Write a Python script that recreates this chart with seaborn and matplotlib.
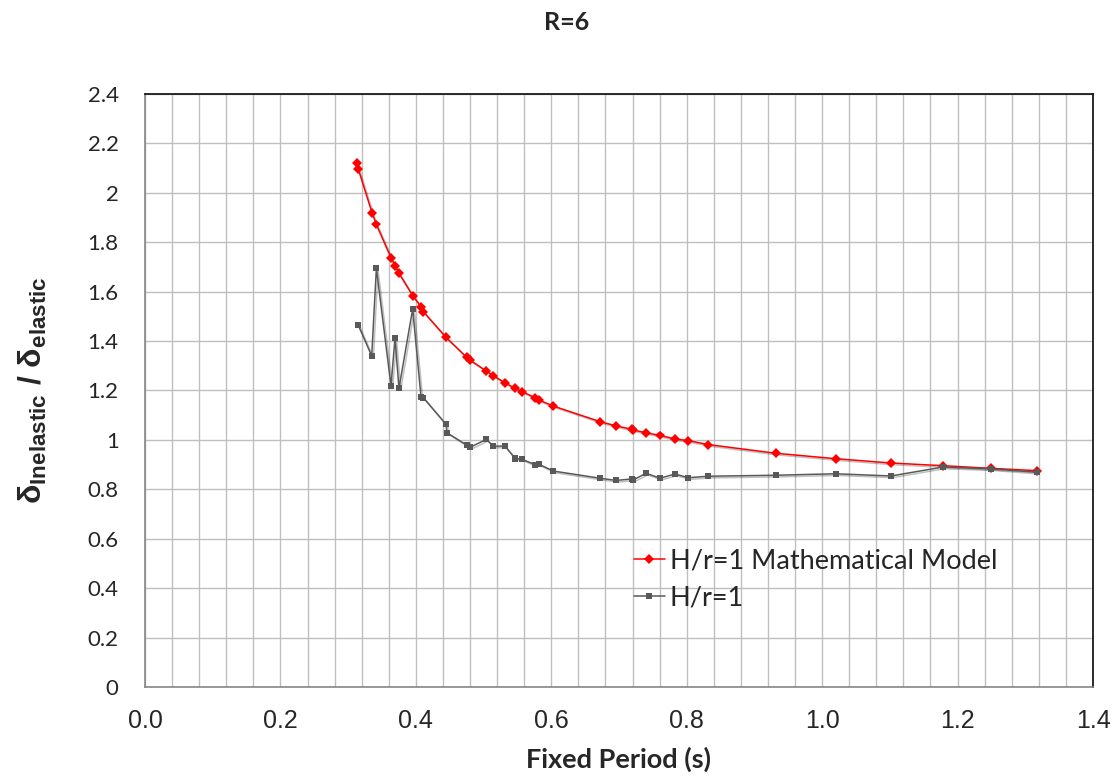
import numpy as np
import pandas as pd
import matplotlib
matplotlib.use("Agg")
import matplotlib.pyplot as plt
import matplotlib.patheffects as pe
from matplotlib.ticker import MultipleLocator, FuncFormatter
import seaborn as sns

# Mathematical model, H/r = 1
model_period = [0.3126, 0.315, 0.3353, 0.3417, 0.3633, 0.3692, 0.3751, 0.3953,
                0.4076, 0.411, 0.4445, 0.4751, 0.480, 0.504, 0.5145, 0.5317,
                0.5465, 0.5573, 0.576, 0.582, 0.603, 0.672, 0.6956, 0.7188,
                0.721, 0.740, 0.7606, 0.7828, 0.8024, 0.832, 0.9314, 1.020,
                1.1018, 1.178, 1.2494, 1.3174]
model_ratio = [2.122, 2.096, 1.919, 1.872, 1.737, 1.705, 1.674, 1.584,
               1.539, 1.519, 1.415, 1.334, 1.323, 1.279, 1.260, 1.231,
               1.209, 1.195, 1.171, 1.161, 1.137, 1.074, 1.057, 1.043,
               1.040, 1.029, 1.018, 1.004, 0.997, 0.981, 0.946, 0.924,
               0.9065, 0.8957, 0.885, 0.8755]

# Analysis results, H/r = 1
hr1_period = [0.315, 0.3348, 0.3417, 0.3633, 0.3692, 0.3751, 0.3953, 0.4076,
              0.411, 0.4445, 0.446, 0.4751, 0.480, 0.504, 0.5145, 0.5317,
              0.5465, 0.5573, 0.576, 0.582, 0.603, 0.672, 0.6956, 0.7188,
              0.721, 0.740, 0.7606, 0.7828, 0.8024, 0.832, 0.9314, 1.020,
              1.1018, 1.178, 1.2494, 1.3174]
hr1_ratio = [1.464, 1.340, 1.694, 1.219, 1.411, 1.209, 1.530, 1.175,
             1.171, 1.063, 1.029, 0.979, 0.970, 1.002, 0.975, 0.975,
             0.925, 0.921, 0.900, 0.901, 0.874, 0.845, 0.836, 0.842,
             0.838, 0.865, 0.845, 0.862, 0.847, 0.853, 0.857, 0.863,
             0.854, 0.890, 0.883, 0.869]

series_names = ["H/r=1 Mathematical Model", "H/r=1"]

df_model = pd.DataFrame({"period": model_period, "ratio": model_ratio})
df_hr1 = pd.DataFrame({"period": hr1_period, "ratio": hr1_ratio})

sns.set_style("white")
plt.rcParams["font.family"] = ["Lato", "DejaVu Sans"]
plt.rcParams["mathtext.fontset"] = "custom"
plt.rcParams["mathtext.rm"] = "Liberation Sans"
plt.rcParams["mathtext.bf"] = "Liberation Sans:bold"
plt.rcParams["mathtext.it"] = "Liberation Sans:italic"

fig = plt.figure(figsize=(11.19, 7.76), dpi=100)
ax = fig.add_axes([145 / 1119, 1 - 687 / 776, 948 / 1119, (687 - 94) / 776])

shadow = [pe.SimpleLineShadow(offset=(1.2, -1.2), shadow_color="black", alpha=0.25),
          pe.Normal()]

sns.lineplot(data=df_model, x="period", y="ratio", ax=ax, sort=False,
             estimator=None, color="#FF0000", linewidth=1.1, marker="D",
             markersize=5.0, markeredgewidth=0, label=series_names[0])
sns.lineplot(data=df_hr1, x="period", y="ratio", ax=ax, sort=False,
             estimator=None, color="#595959", linewidth=1.1, marker="s",
             markersize=4.4, markeredgewidth=0, label=series_names[1])
for ln in ax.get_lines():
    ln.set_path_effects(shadow)

ax.set_xlim(0, 1.4)
ax.set_ylim(0, 2.4)
ax.xaxis.set_major_locator(MultipleLocator(0.2))
ax.xaxis.set_minor_locator(MultipleLocator(0.04))
ax.yaxis.set_major_locator(MultipleLocator(0.2))
ax.xaxis.set_major_formatter(FuncFormatter(lambda v, p: f"{v:.1f}"))
ax.yaxis.set_major_formatter(FuncFormatter(lambda v, p: f"{v:.1f}".rstrip("0").rstrip(".") if abs(v) > 1e-9 else "0"))

ax.grid(True, which="both", axis="x", color="#BFBFBF", linewidth=1.0)
ax.grid(True, which="major", axis="y", color="#BFBFBF", linewidth=1.0)
ax.set_axisbelow(True)

ax.tick_params(axis="both", which="major", direction="out", length=6,
               width=1.0, color="#868686")
ax.tick_params(axis="x", which="minor", length=0)
ax.tick_params(axis="x", which="major", labelsize=18, pad=10)
ax.tick_params(axis="y", which="major", labelsize=16, pad=13)
for lab in ax.get_xticklabels():
    lab.set_fontfamily("Liberation Sans")

for side in ["left", "bottom"]:
    ax.spines[side].set_color("#868686")
    ax.spines[side].set_linewidth(1.2)
for side in ["top", "right"]:
    ax.spines[side].set_color("#1a1a1a")
    ax.spines[side].set_linewidth(1.3)

ax.set_xlabel("Fixed Period (s)", fontsize=19.5, fontweight="bold", labelpad=10)
ax.set_ylabel(r"$\mathbf{\delta}_{\mathbf{Inelastic}}\ \mathbf{/}\ \mathbf{\delta}_{\mathbf{elastic}}$",
              fontsize=23, labelpad=28)
fig.text(567 / 1119, 1 - 22 / 776, "R=6", ha="center", va="center",
         fontsize=18, fontweight="bold")

leg = ax.legend(loc="upper left", bbox_to_anchor=(620 / 1119, 1 - 535 / 776),
                bbox_transform=fig.transFigure, frameon=False, fontsize=19.5,
                handlelength=1.15, handletextpad=0.18, labelspacing=0.45,
                borderpad=0)
for h in leg.legend_handles:
    h.set_path_effects([])

fig.savefig("out.png", dpi=100, facecolor="white")
